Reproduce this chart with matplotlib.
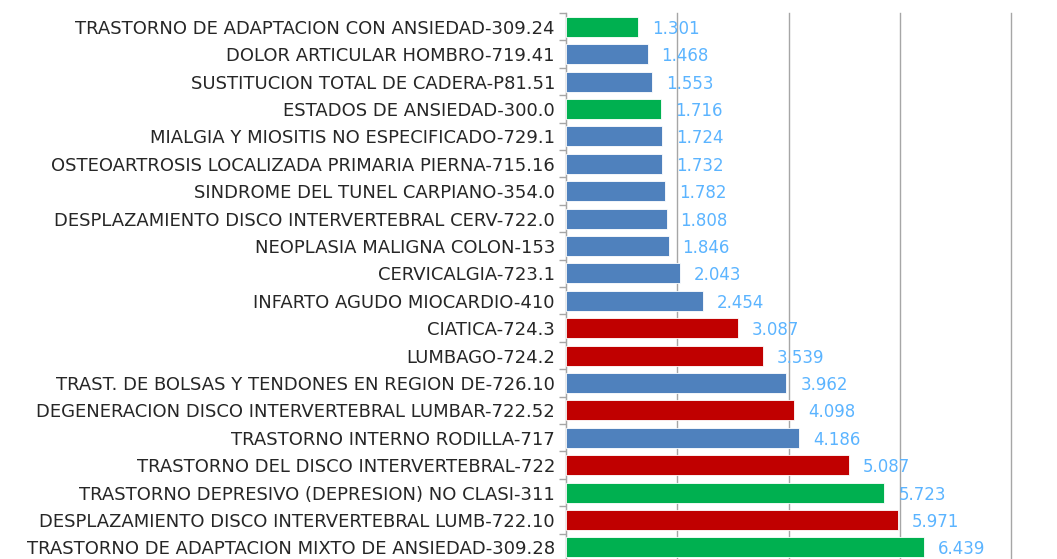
import matplotlib
matplotlib.use('Agg')
import matplotlib.pyplot as plt
import numpy as np

# Datos (de arriba hacia abajo)
categorias = [
    'TRASTORNO DE ADAPTACION CON ANSIEDAD-309.24',
    'DOLOR ARTICULAR HOMBRO-719.41',
    'SUSTITUCION TOTAL DE CADERA-P81.51',
    'ESTADOS DE ANSIEDAD-300.0',
    'MIALGIA Y MIOSITIS NO ESPECIFICADO-729.1',
    'OSTEOARTROSIS LOCALIZADA PRIMARIA PIERNA-715.16',
    'SINDROME DEL TUNEL CARPIANO-354.0',
    'DESPLAZAMIENTO DISCO INTERVERTEBRAL CERV-722.0',
    'NEOPLASIA MALIGNA COLON-153',
    'CERVICALGIA-723.1',
    'INFARTO AGUDO MIOCARDIO-410',
    'CIATICA-724.3',
    'LUMBAGO-724.2',
    'TRAST. DE BOLSAS Y TENDONES EN REGION DE-726.10',
    'DEGENERACION DISCO INTERVERTEBRAL LUMBAR-722.52',
    'TRASTORNO INTERNO RODILLA-717',
    'TRASTORNO DEL DISCO INTERVERTEBRAL-722',
    'TRASTORNO DEPRESIVO (DEPRESION) NO CLASI-311',
    'DESPLAZAMIENTO DISCO INTERVERTEBRAL LUMB-722.10',
    'TRASTORNO DE ADAPTACION MIXTO DE ANSIEDAD-309.28',
]
valores = [1.301, 1.468, 1.553, 1.716, 1.724, 1.732, 1.782, 1.808, 1.846, 2.043,
           2.454, 3.087, 3.539, 3.962, 4.098, 4.186, 5.087, 5.723, 5.971, 6.439]
grupos = ['g', 'b', 'b', 'g', 'b', 'b', 'b', 'b', 'b', 'b',
          'b', 'r', 'r', 'b', 'r', 'b', 'r', 'g', 'r', 'g']

COLORES = {'g': '#00B050', 'b': '#4F81BD', 'r': '#C00000'}
COLOR_VALOR = '#5BB4FF'

fig = plt.figure(figsize=(10.57, 5.59), dpi=100)
ax = fig.add_axes([0.5355, -0.0036, 0.421, 0.9803])

y = np.arange(len(categorias))
cores = [COLORES[g] for g in grupos]
ax.barh(y, valores, height=0.73, color=cores, edgecolor='white', linewidth=0.6, zorder=3)

for yi, v in zip(y, valores):
    ax.annotate(f'{v:.3f}', xy=(v, yi), xytext=(10, -1.5), textcoords='offset points',
                ha='left', va='center', color=COLOR_VALOR, fontsize=12, family='DejaVu Sans')

ax.set_xlim(0, 8)
ax.set_ylim(len(categorias) - 0.5, -0.5)
ax.set_xticks([0, 2, 4, 6, 8])
ax.xaxis.grid(True, color='#A6A6A6', linewidth=1.0, zorder=0)
for gl in ax.get_xgridlines():
    gl.set_clip_on(False)
ax.tick_params(axis='x', length=0, labelbottom=False)

ax.set_yticks(y)
ax.set_yticklabels(categorias, fontsize=13, family='DejaVu Sans', color='#262626')
ax.set_yticks(np.arange(len(categorias) + 1) - 0.5, minor=True)
ax.tick_params(axis='y', which='major', length=0, pad=8)
ax.tick_params(axis='y', which='minor', length=5, color='#A6A6A6', width=1)

for s in ['top', 'right', 'bottom']:
    ax.spines[s].set_visible(False)
ax.spines['left'].set_color('#A6A6A6')

fig.savefig('out.png', dpi=100)
